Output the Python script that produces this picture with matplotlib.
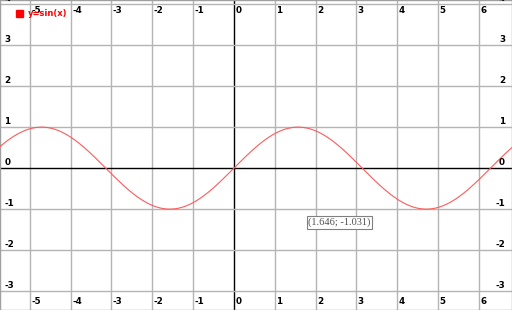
import numpy as np
import matplotlib.pyplot as plt
from matplotlib.patches import Rectangle

# axis window and grid values
x_range = (-5.73, 6.81)
y_range = (-3.46, 4.1)
x_ticks = [-5, -4, -3, -2, -1, 0, 1, 2, 3, 4, 5, 6]
y_ticks = [-3, -2, -1, 0, 1, 2, 3, 4]

# the plotted function, as named in the legend
legend_label = 'y=sin(x)'
curve_x = np.linspace(x_range[0], x_range[1], 600)
curve_y = np.sin(curve_x)

# coordinate readout box
readout_text = '(1.646; -1.031)'
readout_pos = (1.646, -1.031)

fig = plt.figure(figsize=(5.12, 3.10), dpi=100)
ax = fig.add_axes([0, 0, 1, 1])
ax.set_xlim(*x_range)
ax.set_ylim(*y_range)
ax.set_xticks([])
ax.set_yticks([])
for s in ax.spines.values():
    s.set_color('#a0a0a0')
    s.set_linewidth(1)

grid_col = '#b4b4b4'
for xv in x_ticks:
    ax.axvline(xv, color='black' if xv == 0 else grid_col, lw=1, zorder=1)
for yv in y_ticks:
    ax.axhline(yv, color='black' if yv == 0 else grid_col, lw=1, zorder=1)

ax.plot(curve_x, curve_y, color='#ff5a5a', lw=0.8, zorder=3)

lab = dict(fontsize=6.3, fontweight='bold', color='black', zorder=4)
trans_xtop = ax.get_xaxis_transform()
for xv in x_ticks:
    ax.annotate(str(xv), (xv, 1), xycoords=trans_xtop, xytext=(1, -4),
                textcoords='offset points', ha='left', va='top', **lab)
    ax.annotate(str(xv), (xv, 0), xycoords=trans_xtop, xytext=(1, 3),
                textcoords='offset points', ha='left', va='bottom', **lab)
trans_y = ax.get_yaxis_transform()
for yv in y_ticks:
    ax.annotate(str(yv), (0, yv), xycoords=trans_y, xytext=(3, 0.8),
                textcoords='offset points', ha='left', va='bottom', **lab)
    ax.annotate(str(yv), (1, yv), xycoords=trans_y, xytext=(-5, 0.8),
                textcoords='offset points', ha='right', va='bottom', **lab)

# legend
ax.add_patch(Rectangle((0.031, 0.945), 0.014, 0.024, transform=ax.transAxes,
                       color='red', zorder=5))
ax.text(0.054, 0.958, legend_label, transform=ax.transAxes, fontsize=6,
        fontweight='bold', color='red', va='center', ha='left', zorder=5)

ax.annotate(readout_text, readout_pos, xytext=(5, -5),
            textcoords='offset points', ha='left', va='top',
            family='Liberation Serif', fontsize=7.5, color='#505050', zorder=6,
            bbox=dict(boxstyle='square,pad=0.15', fc='white', ec='#808080',
                      lw=0.8))

fig.savefig('out.png', dpi=100)
